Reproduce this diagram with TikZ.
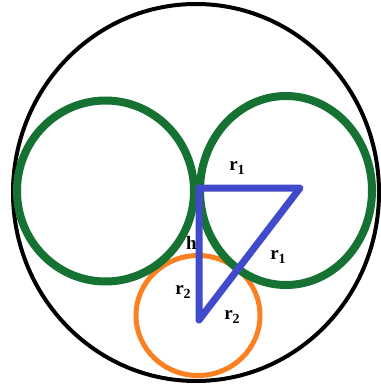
\documentclass[tikz,border=0pt]{standalone}
\usepackage{fontspec}
\setmainfont{Liberation Serif}
\definecolor{cgreen}{RGB}{22,114,50}
\definecolor{cblue}{RGB}{66,74,204}
\definecolor{corange}{RGB}{250,128,34}
\newcommand{\lblsub}[1]{\raisebox{-4pt}{\fontsize{14}{14}\selectfont #1}}
\begin{document}
\begin{tikzpicture}[x=1pt,y=-1pt,
  outercirc/.style={draw=black,line width=4pt},
  greencirc/.style={draw=cgreen,line width=8pt},
  orangecirc/.style={draw=corange,line width=5pt},
  tri/.style={draw=cblue,line width=7pt,line join=round,line cap=round},
  lbl/.style={inner sep=0pt,font=\fontsize{19}{22}\selectfont\bfseries}]
\useasboundingbox (0,0) rectangle (380,390);
\draw[outercirc] (196,192.5) ellipse [x radius=183, y radius=188.5];
\draw[orangecirc] (198,315.5) ellipse [x radius=62, y radius=60];
\draw[greencirc] (105.5,191) ellipse [x radius=88.5, y radius=90.5];
\draw[greencirc] (286,190.5) ellipse [x radius=86, y radius=94.5];
\coordinate (A) at (199,188);
\coordinate (B) at (300,188);
\coordinate (C) at (199,320);
\draw[tri] (A) -- (B) -- (C) -- cycle;
\node[lbl] (l1) at (237,168) {r\lblsub{1}};
\node[lbl] (l2) at (278,257) {r\lblsub{1}};
\node[lbl] (l3) at (191.5,242.5) {h};
\node[lbl] (l4) at (183,291.5) {r\lblsub{2}};
\node[lbl] (l5) at (232,316.5) {r\lblsub{2}};
\end{tikzpicture}
\end{document}
